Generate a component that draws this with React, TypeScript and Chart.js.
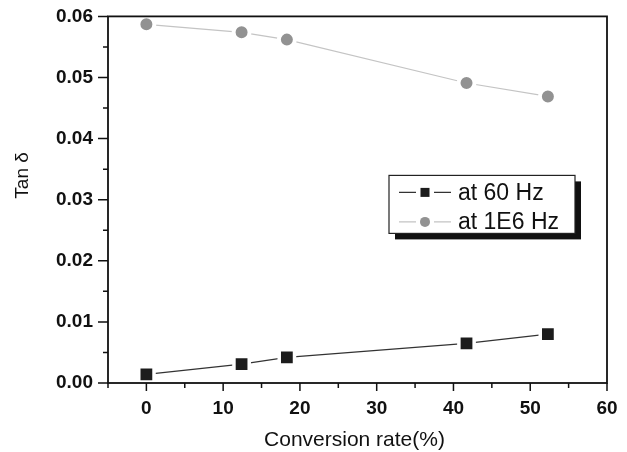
import React, { useEffect, useRef } from "react";
import { Chart, registerables } from "chart.js";

Chart.register(...registerables);

const conversion = [0, 12.4, 18.3, 41.7, 52.3];
const tan60Hz = [0.0014, 0.0031, 0.0042, 0.0065, 0.008];
const tan1E6Hz = [0.0587, 0.0574, 0.0562, 0.0491, 0.0469];

const seriesLabels = ["at 60 Hz", "at 1E6 Hz"];
const xTitle = "Conversion rate(%)";
const yTitle = "Tan δ";

const xMajorTicks = [0, 10, 20, 30, 40, 50, 60];
const xMinorTicks = [-5, 5, 15, 25, 35, 45, 55];
const yMajorTicks = [0, 0.01, 0.02, 0.03, 0.04, 0.05, 0.06];
const yMinorTicks = [0.005, 0.015, 0.025, 0.035, 0.045, 0.055];

const FONT = "'Liberation Sans', Arial, sans-serif";

const framePlugin = {
  id: "originFrame",
  afterDraw(chart: any) {
    const { ctx, chartArea } = chart;
    const xs = chart.scales.x;
    const ys = chart.scales.y;
    const { left, right, top, bottom } = chartArea;
    ctx.save();
    ctx.strokeStyle = "#111";
    ctx.lineWidth = 1.8;
    ctx.strokeRect(left, top, right - left, bottom - top);
    ctx.lineWidth = 1.5;
    ctx.beginPath();
    yMajorTicks.forEach((v) => {
      const p = ys.getPixelForValue(v);
      ctx.moveTo(left - 10, p);
      ctx.lineTo(left, p);
    });
    yMinorTicks.forEach((v) => {
      const p = ys.getPixelForValue(v);
      ctx.moveTo(left - 5, p);
      ctx.lineTo(left, p);
    });
    xMajorTicks.forEach((v) => {
      const p = xs.getPixelForValue(v);
      ctx.moveTo(p, bottom);
      ctx.lineTo(p, bottom + 8);
    });
    xMinorTicks.forEach((v) => {
      const p = xs.getPixelForValue(v);
      ctx.moveTo(p, bottom);
      ctx.lineTo(p, bottom + 5);
    });
    ctx.stroke();

    // axis titles
    ctx.fillStyle = "#111";
    ctx.font = `21px ${FONT}`;
    ctx.textAlign = "center";
    ctx.textBaseline = "alphabetic";
    ctx.fillText(xTitle, (left + right) / 2 - 3, bottom + 63);
    ctx.save();
    ctx.translate(28, top + 159);
    ctx.rotate(-Math.PI / 2);
    ctx.font = `19px ${FONT}`;
    ctx.fillText(yTitle, 0, 0);
    ctx.restore();

    // legend
    const bx = left + 281;
    const by = top + 159;
    const bw = 186;
    const bh = 58;
    ctx.fillStyle = "#111";
    ctx.fillRect(bx + 6, by + 6, bw, bh);
    ctx.fillStyle = "#fff";
    ctx.fillRect(bx, by, bw, bh);
    ctx.strokeStyle = "#222";
    ctx.lineWidth = 1.2;
    ctx.strokeRect(bx, by, bw, bh);
    const ds = chart.data.datasets;
    const rows = [by + 17, by + 46.5];
    rows.forEach((ry, i) => {
      const d = ds[i];
      const lx0 = bx + 10;
      const lx1 = bx + 62;
      const mx = bx + 36;
      ctx.strokeStyle = d.borderColor;
      ctx.lineWidth = 1.2;
      ctx.beginPath();
      ctx.moveTo(lx0, ry);
      ctx.lineTo(mx - 9, ry);
      ctx.moveTo(mx + 9, ry);
      ctx.lineTo(lx1, ry);
      ctx.stroke();
      ctx.fillStyle = d.pointBackgroundColor;
      if (d.pointStyle === "rect") {
        ctx.fillRect(mx - 4.5, ry - 4.5, 9, 9);
      } else {
        ctx.beginPath();
        ctx.arc(mx, ry, 5, 0, Math.PI * 2);
        ctx.fill();
      }
      ctx.fillStyle = "#111";
      ctx.font = `23px ${FONT}`;
      ctx.textAlign = "left";
      ctx.textBaseline = "middle";
      ctx.fillText(d.label, bx + 69, ry + 1);
    });
    ctx.restore();
  },
};

export default function App() {
  const ref = useRef<HTMLCanvasElement>(null);
  useEffect(() => {
    document.body.style.margin = "0";
    const canvas = ref.current!;
    const chart = new Chart(canvas, {
      type: "line",
      data: {
        datasets: [
          {
            label: seriesLabels[0],
            data: conversion.map((x, i) => ({ x, y: tan60Hz[i] })),
            borderColor: "#333",
            borderWidth: 1.2,
            pointStyle: "rect",
            pointRadius: 10.8,
            pointBorderWidth: 3.5,
            pointBorderColor: "#fff",
            pointBackgroundColor: "#1c1c1c",
            clip: false,
          } as any,
          {
            label: seriesLabels[1],
            data: conversion.map((x, i) => ({ x, y: tan1E6Hz[i] })),
            borderColor: "#c4c4c4",
            borderWidth: 1.2,
            pointStyle: "circle",
            pointRadius: 8,
            pointBorderWidth: 4,
            pointBorderColor: "#fff",
            pointBackgroundColor: "#929292",
            clip: false,
          } as any,
        ],
      },
      options: {
        animation: false,
        responsive: false,
        devicePixelRatio: 1,
        layout: { padding: { top: 16, right: 20, left: 0, bottom: 0 } },
        plugins: { legend: { display: false }, tooltip: { enabled: false } },
        scales: {
          x: {
            type: "linear",
            min: -5,
            max: 60,
            grid: { display: false, drawTicks: true, tickLength: 8 },
            border: { display: false },
            afterBuildTicks: (s: any) => {
              s.ticks = xMajorTicks.map((v) => ({ value: v }));
            },
            afterFit: (s: any) => {
              s.height = 69;
            },
            ticks: {
              padding: 6,
              color: "#111",
              font: { family: FONT, size: 19, weight: "bold" },
              callback: (v: any) => String(v),
            },
          },
          y: {
            type: "linear",
            min: 0,
            max: 0.06,
            grid: { display: false, drawTicks: true, tickLength: 10 },
            border: { display: false },
            afterBuildTicks: (s: any) => {
              s.ticks = yMajorTicks.map((v) => ({ value: v }));
            },
            afterFit: (s: any) => {
              s.width = 108;
            },
            ticks: {
              padding: 5,
              color: "#111",
              font: { family: FONT, size: 19, weight: "bold" },
              callback: (v: any) => Number(v).toFixed(2),
            },
          },
        },
      },
      plugins: [framePlugin],
    });
    return () => chart.destroy();
  }, []);
  return (
    <div style={{ width: 627, height: 452 }}>
      <canvas ref={ref} width={627} height={452} style={{ width: 627, height: 452, display: "block" }} />
    </div>
  );
}
